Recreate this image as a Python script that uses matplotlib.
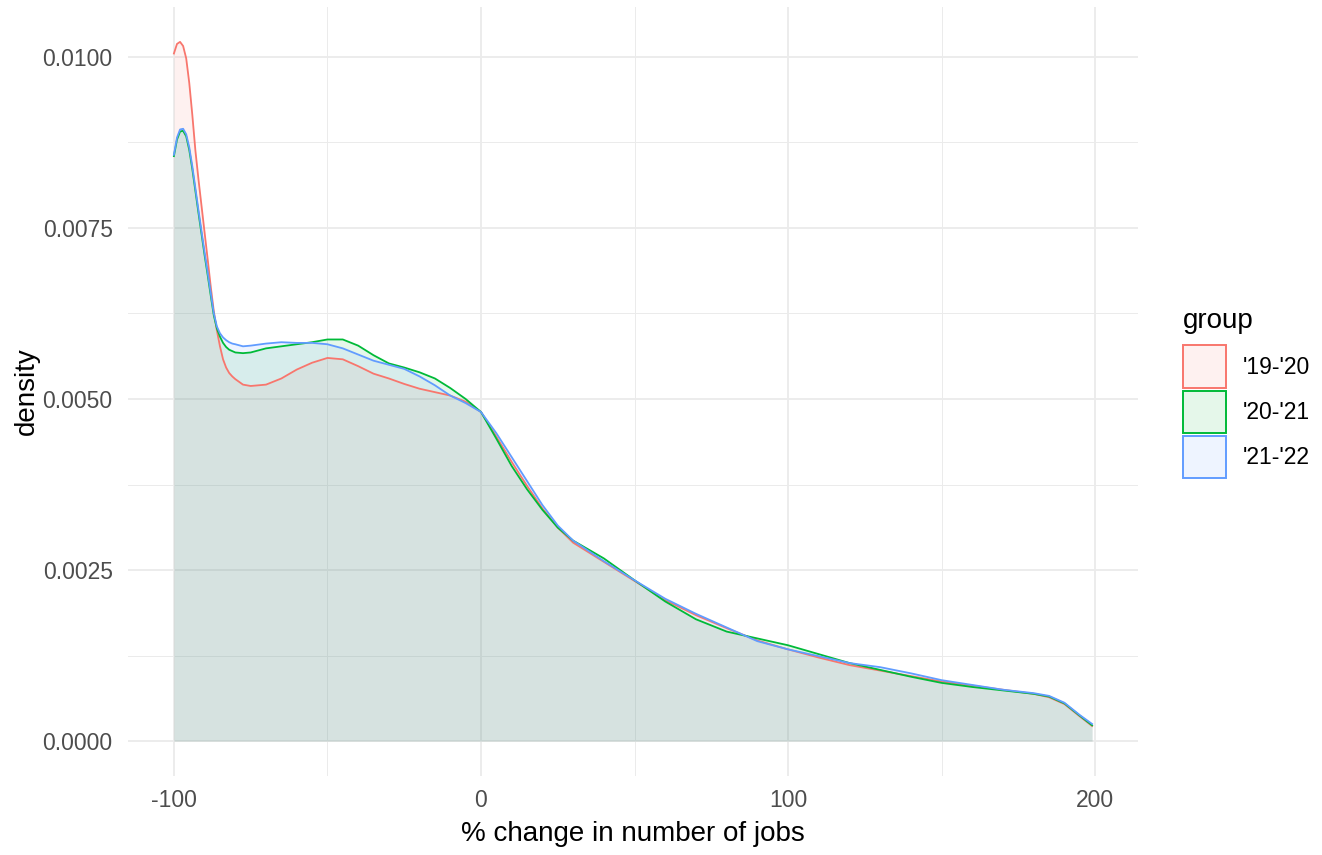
import matplotlib.pyplot as plt
from matplotlib.colors import to_rgb
from matplotlib.patches import Patch
from matplotlib.ticker import MultipleLocator

plt.rcParams['font.family'] = ['Liberation Sans', 'DejaVu Sans']
plt.rcParams['axes.unicode_minus'] = False

# x positions (% change in number of jobs) where the densities were read
x = [-100, -99, -98, -97, -96, -95, -94, -93, -92, -91, -90, -89, -88, -87, -86,
     -85, -84, -83, -82, -81, -80, -77.5, -75, -70, -65, -60, -55, -50, -45,
     -40, -35, -30, -25, -20, -15, -10, -5, 0, 5, 10, 15, 20, 25, 30, 40, 50,
     60, 70, 80, 90, 100, 110, 120, 130, 140, 150, 160, 170, 180, 185, 190,
     195, 199]

d_1920 = [0.01005, 0.01019, 0.01022, 0.01016, 0.00998, 0.00962, 0.00915, 0.00863,
          0.00821, 0.00782, 0.00743, 0.00704, 0.00664, 0.00628, 0.00600, 0.00577,
          0.00558, 0.00546, 0.00538, 0.00533, 0.00529,
          0.00521, 0.00519, 0.00521, 0.00530, 0.00543, 0.00553, 0.00560,
          0.00558, 0.00548, 0.00537, 0.00530, 0.00522, 0.00515, 0.00510, 0.00505,
          0.00496, 0.00481, 0.00445, 0.00408, 0.00373, 0.00340, 0.00312, 0.00290,
          0.00262, 0.00234, 0.00206, 0.00184, 0.00165, 0.00147, 0.00134, 0.00122,
          0.00111, 0.00103, 0.00095, 0.00087, 0.00081, 0.00075, 0.00069, 0.00064,
          0.00054, 0.00036, 0.00022]

d_2021 = [0.00855, 0.00879, 0.00891, 0.00892, 0.00884, 0.00864, 0.00836, 0.00804,
          0.00772, 0.00741, 0.00710, 0.00681, 0.00651, 0.00622, 0.00603, 0.00591,
          0.00582, 0.00576, 0.00572, 0.00570, 0.00568,
          0.00567, 0.00568, 0.00574, 0.00577, 0.00580, 0.00583, 0.00587,
          0.00587, 0.00578, 0.00564, 0.00552, 0.00546, 0.00539, 0.00530, 0.00516,
          0.00500, 0.00481, 0.00442, 0.00402, 0.00368, 0.00338, 0.00312, 0.00293,
          0.00267, 0.00235, 0.00204, 0.00178, 0.00160, 0.00150, 0.00140, 0.00127,
          0.00114, 0.00104, 0.00094, 0.00085, 0.00079, 0.00074, 0.00069, 0.00065,
          0.00055, 0.00037, 0.00023]

d_2122 = [0.00857, 0.00882, 0.00894, 0.00895, 0.00887, 0.00868, 0.00840, 0.00808,
          0.00776, 0.00745, 0.00714, 0.00685, 0.00655, 0.00625, 0.00606, 0.00596,
          0.00590, 0.00586, 0.00583, 0.00581, 0.00580,
          0.00577, 0.00578, 0.00581, 0.00583, 0.00582, 0.00582, 0.00580,
          0.00574, 0.00565, 0.00556, 0.00550, 0.00544, 0.00533, 0.00520, 0.00505,
          0.00494, 0.00481, 0.00450, 0.00415, 0.00380, 0.00345, 0.00315, 0.00293,
          0.00263, 0.00235, 0.00208, 0.00186, 0.00166, 0.00146, 0.00134, 0.00124,
          0.00114, 0.00108, 0.00099, 0.00089, 0.00082, 0.00075, 0.00070, 0.00066,
          0.00056, 0.00038, 0.00025]

groups = ["'19-'20", "'20-'21", "'21-'22"]
series = [d_1920, d_2021, d_2122]
colors = ['#F8766D', '#00BA38', '#619CFF']

fig = plt.figure(figsize=(13.22, 8.55), dpi=100)
ax = fig.add_axes([128 / 1322, (855 - 776) / 855, 1010 / 1322, 769 / 855])

for ys, c in zip(series, colors):
    ax.fill_between(x, 0, ys, color=c, alpha=0.1, lw=0)
    ax.plot(x, ys, color=c, lw=1.3)

ax.set_xlim(-114.95, 213.95)
ax.set_ylim(-0.000511, 0.01073)
ax.xaxis.set_major_locator(MultipleLocator(100))
ax.xaxis.set_minor_locator(MultipleLocator(50))
ax.yaxis.set_major_locator(MultipleLocator(0.0025))
ax.yaxis.set_minor_locator(MultipleLocator(0.00125))
ax.yaxis.set_major_formatter(plt.FuncFormatter(lambda v, p: f'{v:.4f}'))
ax.grid(which='major', color='#EBEBEB', lw=1.3)
ax.grid(which='minor', color='#EBEBEB', lw=0.7)
ax.set_axisbelow(True)
for s in ax.spines.values():
    s.set_visible(False)
ax.tick_params(which='both', length=0, labelsize=16.5, labelcolor='#4D4D4D')
ax.tick_params(axis='x', pad=9)
ax.tick_params(axis='y', pad=11)
ax.set_xlabel('% change in number of jobs', fontsize=20, labelpad=7)
ax.set_ylabel('density', fontsize=20, labelpad=2)

# legend keys: outlined squares with the light fill
handles = [Patch(facecolor=(*to_rgb(c), 0.1), edgecolor=c, lw=1.4) for c in colors]
leg = fig.legend(handles, groups, title='group', loc='upper left',
                 bbox_to_anchor=(1162 / 1322, 1 - 287 / 855), frameon=False,
                 fontsize=16.5, title_fontsize=20, handlelength=1.88,
                 handleheight=2.45, labelspacing=0.13, handletextpad=0.74,
                 alignment='left')
leg._legend_box.sep = 8.5  # a bit more room between title and keys

fig.savefig('out.png', dpi=100)
